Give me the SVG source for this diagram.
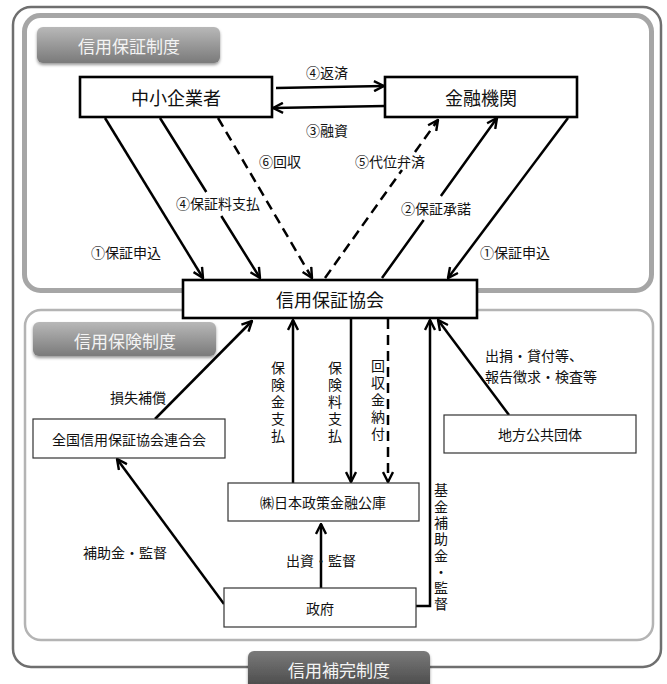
<svg xmlns="http://www.w3.org/2000/svg" width="667" height="684" viewBox="0 0 667 684">
<style>
text{font-family:"Noto Sans CJK JP","Noto Sans",sans-serif;fill:#111;}
.lbl{font-size:14px;dominant-baseline:central;}
.big{font-size:18px;dominant-baseline:central;text-anchor:middle;}
.mid{text-anchor:middle;}
.vt{font-size:14px;writing-mode:vertical-rl;text-orientation:upright;dominant-baseline:central;text-anchor:start;letter-spacing:3px;}
.badge text{font-size:17px;fill:#f4f4f4;dominant-baseline:central;text-anchor:middle;}
.nodeB rect{fill:#fff;stroke:#000;stroke-width:2.6;}
.nodeT rect{fill:#fff;stroke:#333;stroke-width:1.2;}
.nodeT text{font-size:14px;dominant-baseline:central;text-anchor:middle;}
.c{fill:none;stroke:#000;stroke-width:2.5;}
.d{stroke-dasharray:10 6;}
</style>
<defs>
<marker id="ah" viewBox="0 0 12 12" refX="11" refY="6" markerWidth="12" markerHeight="12" markerUnits="userSpaceOnUse" orient="auto">
<path d="M1,1 L11,6 L1,11" fill="none" stroke="#000" stroke-width="2.4" stroke-dasharray="none"/>
</marker>
<linearGradient id="bg1" x1="0" y1="0" x2="0" y2="1"><stop offset="0" stop-color="#b8b8b8"/><stop offset="1" stop-color="#7a7a7a"/></linearGradient>
<linearGradient id="bg2" x1="0" y1="0" x2="0" y2="1"><stop offset="0" stop-color="#7a7a7a"/><stop offset="1" stop-color="#454545"/></linearGradient>
<filter id="sh" x="-10%" y="-20%" width="120%" height="150%"><feDropShadow dx="0" dy="2" stdDeviation="1.5" flood-color="#000" flood-opacity="0.4"/></filter>
</defs>

<g id="frames">
<rect x="13" y="7" width="648" height="660" rx="18" fill="#fff" stroke="#6f6f6f" stroke-width="2.5"/>
<rect x="24.5" y="15.5" width="627" height="275" rx="16" fill="none" stroke="#a6a6a6" stroke-width="5"/>
<rect x="25" y="310" width="628" height="330" rx="16" fill="none" stroke="#b4b4b4" stroke-width="2.5"/>
</g>

<g id="badge-hosho" class="badge">
<rect x="37" y="27" width="183" height="36" rx="6" fill="url(#bg1)" filter="url(#sh)"/>
<text x="129" y="45">信用保証制度</text>
</g>
<g id="badge-hoken" class="badge">
<rect x="33" y="322" width="183" height="34" rx="6" fill="url(#bg1)" filter="url(#sh)"/>
<text x="125" y="340">信用保険制度</text>
</g>
<g id="badge-hokan" class="badge">
<rect x="248" y="651" width="182" height="40" rx="6" fill="url(#bg2)" filter="url(#sh)"/>
<text x="339" y="669">信用補完制度</text>
</g>

<g id="connectors">
<path class="c" d="M276,88 L384,86" marker-end="url(#ah)"/>
<path class="c" d="M385,106 L273,108" marker-end="url(#ah)"/>
<path class="c" d="M105,118 L203,278" marker-end="url(#ah)"/>
<path class="c" d="M160,118 L206.3,192 M221.3,216 L260,278" marker-end="url(#ah)"/>
<path class="c d" d="M218,118 L312,278" marker-end="url(#ah)"/>
<path class="c d" d="M325,278 L402,170 M415,152 L438,120" marker-end="url(#ah)"/>
<path class="c" d="M382,278 L423.7,220 M440.9,196 L497,118" marker-end="url(#ah)"/>
<path class="c" d="M568,118 L448,278" marker-end="url(#ah)"/>
<path class="c" d="M155,419 L252,321" marker-end="url(#ah)"/>
<path class="c" d="M293,483 L293,320" marker-end="url(#ah)"/>
<path class="c" d="M351,319 L351,482" marker-end="url(#ah)"/>
<path class="c d" d="M388,319 L388,482" marker-end="url(#ah)"/>
<path class="c" d="M416,606 L430,606 L430,320" marker-end="url(#ah)"/>
<path class="c" d="M509,415 L438,320" marker-end="url(#ah)"/>
<path class="c" d="M321,588 L321,524" marker-end="url(#ah)"/>
<path class="c" d="M224,604 L117,459" marker-end="url(#ah)"/>
</g>

<g id="labels">
<text class="lbl mid" x="327" y="72">④返済</text>
<text class="lbl mid" x="327" y="130">③融資</text>
<text class="lbl mid" x="280" y="161">⑥回収</text>
<text class="lbl mid" x="390" y="161">⑤代位弁済</text>
<text class="lbl mid" x="218" y="203">④保証料支払</text>
<text class="lbl mid" x="436" y="208">②保証承諾</text>
<text class="lbl mid" x="126" y="252">①保証申込</text>
<text class="lbl mid" x="515" y="252">①保証申込</text>
<text class="lbl mid" x="138" y="397">損失補償</text>
<text class="lbl" x="485" y="355">出捐・貸付等、<tspan x="485" dy="21">報告徴求・検査等</tspan></text>
<text class="lbl mid" x="125" y="552">補助金・監督</text>
<text class="lbl mid" x="321" y="560">出資・監督</text>
<text class="vt" x="278" y="361">保険金支払</text>
<text class="vt" x="335" y="361">保険料支払</text>
<text class="vt" x="378" y="359">回収金納付</text>
<text class="vt" x="441" y="483" style="letter-spacing:2.3px">基金補助金・監督</text>
</g>

<g id="node-chusho" class="nodeB">
<rect x="80" y="77" width="192" height="40"/>
<text class="big" x="176" y="97">中小企業者</text>
</g>
<g id="node-kinyu" class="nodeB">
<rect x="385" y="77" width="192" height="40"/>
<text class="big" x="481" y="97">金融機関</text>
</g>
<g id="node-kyokai" class="nodeB">
<rect x="183" y="280" width="294" height="38"/>
<text class="big" x="330" y="299">信用保証協会</text>
</g>
<g id="node-rengokai" class="nodeT">
<rect x="33" y="419" width="192" height="39"/>
<text x="129" y="439">全国信用保証協会連合会</text>
</g>
<g id="node-chiho" class="nodeT">
<rect x="444" y="415" width="192" height="38"/>
<text x="540" y="434">地方公共団体</text>
</g>
<g id="node-koko" class="nodeT">
<rect x="228" y="483" width="191" height="38"/>
<text x="323" y="502">㈱日本政策金融公庫</text>
</g>
<g id="node-seifu" class="nodeT">
<rect x="224" y="588" width="192" height="39"/>
<text x="320" y="608">政府</text>
</g>
</svg>
